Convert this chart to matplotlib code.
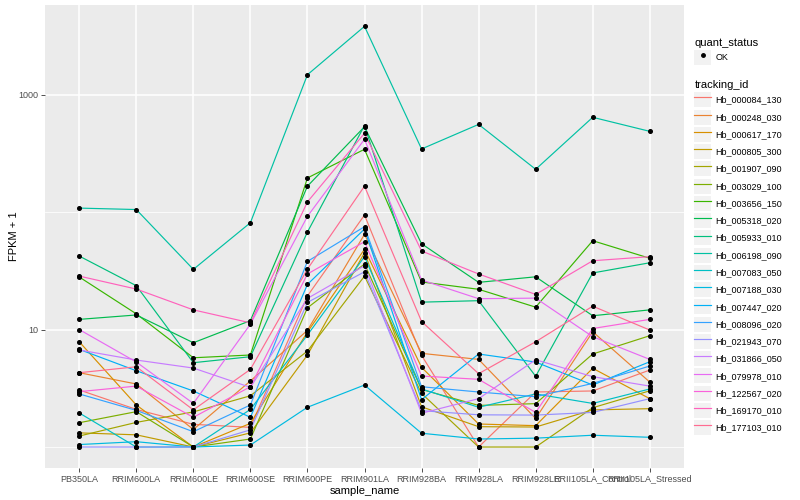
import matplotlib
matplotlib.use("Agg")
import matplotlib.pyplot as plt
from matplotlib.lines import Line2D
from matplotlib.patches import Rectangle
from matplotlib.ticker import FixedLocator, NullFormatter
import numpy as np

plt.rcParams['font.family'] = ['Liberation Sans', 'DejaVu Sans']

samples = ["PB350LA", "RRIM600LA", "RRIM600LE", "RRIM600SE", "RRIM600PE", "RRIM901LA",
           "RRIM928BA", "RRIM928LA", "RRIM928LE", "RRII105LA_Control", "RRII105LA_Stressed"]

tracking_ids = ["Hb_000084_130", "Hb_000248_030", "Hb_000617_170", "Hb_000805_300",
                "Hb_001907_090", "Hb_003029_100", "Hb_003656_150", "Hb_005318_020",
                "Hb_005933_010", "Hb_006198_090", "Hb_007083_050", "Hb_007188_030",
                "Hb_007447_020", "Hb_008096_020", "Hb_021943_070", "Hb_031866_050",
                "Hb_079978_010", "Hb_122567_020", "Hb_169170_010", "Hb_177103_010"]

# FPKM + 1 per sample
hb_000084_130 = [3.06, 2.09, 1.56, 1.47, 19.3, 94.3, 6.03, 1.0, 2.94, 3.00, 4.52]
hb_000248_030 = [4.29, 3.44, 1.41, 3.65, 9.84, 64.6, 6.27, 5.57, 1.75, 9.58, 3.57]
hb_000617_170 = [7.87, 2.28, 1.0, 1.59, 9.52, 48.2, 4.77, 1.57, 1.52, 4.68, 2.58]
hb_000805_300 = [1.32, 1.27, 1.0, 1.32, 6.07, 45.1, 2.20, 1.49, 1.48, 2.07, 2.12]
hb_001907_090 = [1.24, 1.62, 1.99, 2.73, 6.56, 28.5, 2.86, 1.0, 1.0, 2.16, 3.01]
hb_003029_100 = [1.61, 2.00, 1.0, 1.17, 15.3, 36.1, 3.09, 2.26, 2.34, 6.19, 8.86]
hb_003656_150 = [28.0, 13.6, 5.75, 6.07, 195, 342, 25.4, 22.0, 15.5, 57.0, 40.4]
hb_005318_020 = [12.2, 13.3, 7.72, 11.9, 166, 532, 53.7, 25.2, 28.1, 13.1, 14.7]
hb_005933_010 = [42.2, 23.6, 5.22, 5.87, 67.6, 545, 17.1, 17.6, 4.00, 30.3, 37.0]
hb_006198_090 = [108, 105, 32.5, 81.1, 1474, 3804, 344, 557, 231, 640, 486]
hb_007083_050 = [1.95, 1.0, 1.0, 2.09, 8.98, 41.7, 3.12, 2.18, 2.83, 2.35, 3.12]
hb_007188_030 = [1.05, 1.11, 1.0, 1.04, 2.18, 3.37, 1.31, 1.17, 1.19, 1.26, 1.21]
hb_007447_020 = [6.78, 4.46, 3.00, 1.79, 24.2, 71.7, 2.53, 6.19, 5.29, 3.37, 5.32]
hb_008096_020 = [2.83, 2.05, 1.35, 2.28, 38.0, 75.0, 3.26, 2.94, 2.68, 3.48, 4.89]
hb_021943_070 = [1.0, 1.0, 1.0, 1.40, 17.0, 31.0, 2.04, 1.88, 1.87, 1.97, 2.58]
hb_031866_050 = [6.70, 5.50, 4.70, 3.22, 18.4, 34.9, 1.94, 2.58, 5.53, 3.97, 3.30]
hb_079978_010 = [10.0, 5.29, 2.35, 11.1, 91.9, 416, 26.4, 18.3, 18.5, 8.69, 5.57]
hb_122567_020 = [2.96, 3.30, 1.79, 3.26, 29.7, 55.9, 4.02, 3.77, 1.97, 10.2, 12.2]
hb_169170_010 = [28.5, 22.1, 14.7, 11.4, 122, 468, 46.6, 29.7, 19.9, 38.5, 41.7]
hb_177103_010 = [4.29, 4.82, 2.07, 4.58, 32.7, 166, 11.7, 4.21, 7.87, 15.8, 9.9]

series = [hb_000084_130, hb_000248_030, hb_000617_170, hb_000805_300, hb_001907_090,
          hb_003029_100, hb_003656_150, hb_005318_020, hb_005933_010, hb_006198_090,
          hb_007083_050, hb_007188_030, hb_007447_020, hb_008096_020, hb_021943_070,
          hb_031866_050, hb_079978_010, hb_122567_020, hb_169170_010, hb_177103_010]

# ggplot2 default hue palette, 20 levels
colors = ["#F8766D", "#EA8331", "#D89000", "#C09B00", "#A3A500", "#7CAE00", "#39B600",
          "#00BB4E", "#00BF7D", "#00C1A3", "#00BFC4", "#00BAE0", "#00B0F6", "#35A2FF",
          "#9590FF", "#C77CFF", "#E76BF3", "#FA62DB", "#FF62BC", "#FF6C91"]

fig = plt.figure(figsize=(8, 5), dpi=100)
ax = fig.add_axes([0.05625, 0.064, 0.79875, 0.926])
ax.set_facecolor("#EBEBEB")

x = np.arange(len(samples))
for vals, col in zip(series, colors):
    ax.plot(x, vals, color=col, lw=0.85, zorder=2)
for vals in series:
    ax.plot(x, vals, ls="none", marker="o", ms=2.6, color="black", zorder=3)

ax.set_yscale("log")
ax.set_ylim(0.663, 5780)
ax.set_xlim(-0.6, len(samples) - 0.4)
ax.set_yticks([10, 1000])
ax.set_yticklabels(["10", "1000"])
ax.yaxis.set_minor_locator(FixedLocator([1, 100, 10000]))
ax.yaxis.set_minor_formatter(NullFormatter())
ax.set_xticks(x)
ax.set_xticklabels(samples)

ax.set_axisbelow(True)
ax.grid(which="major", color="white", lw=1.1)
ax.grid(which="minor", axis="y", color="white", lw=0.55)
ax.tick_params(which="major", length=2.8, width=0.6, color="#333333",
               labelsize=6.5, labelcolor="#4D4D4D", pad=2)
ax.tick_params(which="minor", length=0)
for s in ax.spines.values():
    s.set_visible(False)

ax.set_xlabel("sample_name", fontsize=8, labelpad=2)
ax.set_ylabel("FPKM + 1", fontsize=8)
ax.yaxis.set_label_coords(-0.041, 0.5)

# legends, ggplot-like grey key boxes
key_bg = lambda: Rectangle((0, 0), 1, 1, fc="#F2F2F2", ec="none")
pt = Line2D([], [], ls="none", marker="o", ms=2.5, color="black")
leg_kw = dict(loc="upper left", frameon=False, fontsize=6.5, title_fontsize=8,
              handlelength=1.8, handleheight=2.18, handletextpad=0.5,
              labelspacing=0.25, borderpad=0, borderaxespad=0, alignment="left")
fig.legend(handles=[(key_bg(), pt)], labels=["OK"], title="quant_status",
           bbox_to_anchor=(0.868, 0.925), **leg_kw)
fig.legend(handles=[(key_bg(), Line2D([], [], color=c, lw=0.85)) for c in colors],
           labels=tracking_ids, title="tracking_id",
           bbox_to_anchor=(0.868, 0.840), **leg_kw)

fig.savefig("out.png", dpi=100)
